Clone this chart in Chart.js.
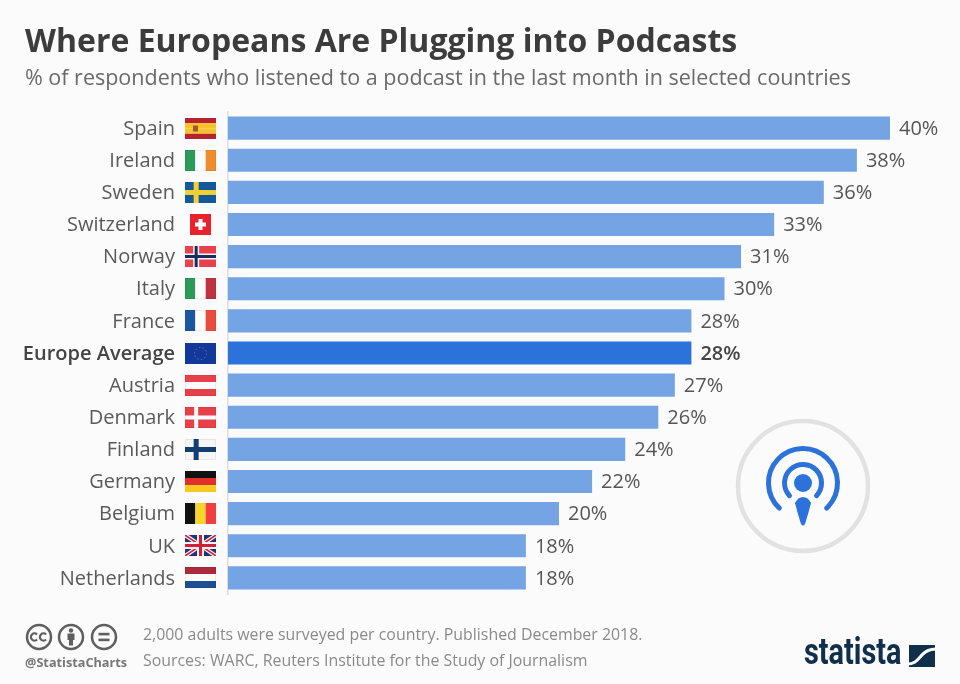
<!DOCTYPE html>
<html><head><meta charset="utf-8">
<script src="https://cdn.jsdelivr.net/npm/chart.js@4"></script>
<style>
html,body{margin:0;padding:0;background:#fbfbfb;width:960px;height:684px;overflow:hidden}
#wrap{position:relative;width:960px;height:684px;font-family:"Open Sans",sans-serif}
canvas{position:absolute;left:0;top:0}
.t{position:absolute;white-space:nowrap;line-height:1}
#title{left:25px;top:24px;font-size:32px;font-weight:700;color:#3c3c3c}
#sub{left:25px;top:66px;font-size:21.5px;color:#6a6a6a}
#f1{left:143px;top:627px;font-size:15.9px;color:#8a8a8a}
#f2{left:143px;top:653px;font-size:15.9px;color:#8a8a8a}
#handle{left:25px;top:656px;font-size:12.7px;font-weight:700;color:#777}
#brand{left:804px;top:633px;font-size:37px;font-weight:700;color:#0f2f4a;font-family:"Roboto",sans-serif;transform-origin:left top;transform:scaleX(.78)}
</style></head><body>
<div id="wrap">
<canvas id="c" width="960" height="684"></canvas>
<div class="t" id="title">Where Europeans Are Plugging into Podcasts</div>
<div class="t" id="sub">% of respondents who listened to a podcast in the last month in selected countries</div>
<div class="t" id="f1">2,000 adults were surveyed per country. Published December 2018.</div>
<div class="t" id="f2">Sources: WARC, Reuters Institute for the Study of Journalism</div>
<div class="t" id="handle">@StatistaCharts</div>
<div class="t" id="brand">statista</div>
</div>
<script>
const categories=["Spain","Ireland","Sweden","Switzerland","Norway","Italy","France","Europe Average","Austria","Denmark","Finland","Germany","Belgium","UK","Netherlands"];
const values=[40,38,36,33,31,30,28,28,27,26,24,22,20,18,18];
const highlight="Europe Average";
const flagCodes=["es","ie","se","ch","no","it","fr","eu","at","dk","fi","de","be","uk","nl"];

const LIGHT="#74a4e3",DARK="#2b72da",BLUE="#2b72da";
const FONT='"Open Sans",sans-serif';

function vstripes(g,x,y,w,h,cols){const s=w/cols.length;cols.forEach((c,i)=>{g.fillStyle=c;g.fillRect(x+i*s,y,s,h)})}
function hstripes(g,x,y,w,h,cols){const s=h/cols.length;cols.forEach((c,i)=>{g.fillStyle=c;g.fillRect(x,y+i*s,w,s)})}
function nordic(g,x,y,w,h,bg,cross,inner,t){
  t=t||6;
  g.fillStyle=bg;g.fillRect(x,y,w,h);
  const cx=x+w*.36,cy=y+h/2;
  g.fillStyle=cross;g.fillRect(cx-t/2,y,t,h);g.fillRect(x,cy-t/2,w,t);
  if(inner){g.fillStyle=inner;g.fillRect(cx-1.5,y,3,h);g.fillRect(x,cy-1.5,w,3)}
}
const flagDraw={
  es(g,x,y,w,h){hstripes(g,x,y,w,h,["#b5242c","#f6c32c","#f6c32c","#b5242c"]);g.fillStyle="#a8562a";g.fillRect(x+8,y+h/2-3,5,6)},
  ie(g,x,y,w,h){vstripes(g,x,y,w,h,["#2b9a5b","#fbfbfb","#f08c2e"])},
  se(g,x,y,w,h){nordic(g,x,y,w,h,"#14589c","#f2cf35",null,5)},
  no(g,x,y,w,h){nordic(g,x,y,w,h,"#e8424f","#f4f4f4","#12305f")},
  it(g,x,y,w,h){vstripes(g,x,y,w,h,["#2b9a5b","#fbfbfb","#bf3340"])},
  fr(g,x,y,w,h){vstripes(g,x,y,w,h,["#1c56a0","#fbfbfb","#ea4b40"])},
  eu(g,x,y,w,h){g.fillStyle="#12389a";g.fillRect(x,y,w,h);g.strokeStyle="#5f76b8";g.lineWidth=1;g.setLineDash([1.5,2.2]);g.beginPath();g.arc(x+w/2,y+h/2,6,0,Math.PI*2);g.stroke();g.setLineDash([])},
  at(g,x,y,w,h){hstripes(g,x,y,w,h,["#e8404a","#fbfbfb","#e8404a"])},
  dk(g,x,y,w,h){nordic(g,x,y,w,h,"#e8404a","#fbfbfb",null,4)},
  fi(g,x,y,w,h){nordic(g,x,y,w,h,"#f6f6f6","#123e73",null,5)},
  de(g,x,y,w,h){hstripes(g,x,y,w,h,["#111111","#e0302c","#f8c91e"])},
  be(g,x,y,w,h){vstripes(g,x,y,w,h,["#111111","#f8d32c","#ee4040"])},
  uk(g,x,y,w,h){
    g.fillStyle="#25307a";g.fillRect(x,y,w,h);
    g.save();g.beginPath();g.rect(x,y,w,h);g.clip();
    g.strokeStyle="#f2f2f2";g.lineWidth=4;g.beginPath();g.moveTo(x,y);g.lineTo(x+w,y+h);g.moveTo(x+w,y);g.lineTo(x,y+h);g.stroke();
    g.strokeStyle="#d21f35";g.lineWidth=1.5;g.stroke();
    g.fillStyle="#f2f2f2";g.fillRect(x+w/2-3.5,y,7,h);g.fillRect(x,y+h/2-3.5,w,7);
    g.fillStyle="#d21f35";g.fillRect(x+w/2-1.5,y,3,h);g.fillRect(x,y+h/2-1.5,w,3);
    g.restore();
  },
  nl(g,x,y,w,h){hstripes(g,x,y,w,h,["#ab2b3c","#fbfbfb","#1f4f92"])},
  ch(g,x,y,w,h){
    const s=h,x0=x+(w-s)/2;g.fillStyle="#e8232c";g.fillRect(x0,y,s,s);
    g.fillStyle="#fff";g.fillRect(x0+s/2-5.5,y+s/2-2,11,4);g.fillRect(x0+s/2-2,y+s/2-5.5,4,11);
  }
};

const artwork={id:"artwork",afterDraw(ch){
  const g=ch.ctx,yS=ch.scales.y;
  g.save();
  const bars=ch.getDatasetMeta(0).data;
  g.textBaseline="middle";g.textAlign="left";
  bars.forEach((b,i)=>{
    const hi=categories[i]===highlight;
    g.font=(hi?"600 ":"")+"20px "+FONT;
    g.fillStyle=hi?"#444":"#555";
    g.fillText(values[i]+"%",b.x+9,b.y+1);
  });
  flagCodes.forEach((c,i)=>{
    const cy=yS.getPixelForTick(i),w=31,h=21,x=185,y=Math.round(cy-h/2);
    flagDraw[c](g,x,y,w,h);
    if(c==="ie"||c==="it"||c==="fr"||c==="at"||c==="nl"||c==="fi"||c==="dk"){g.strokeStyle="rgba(0,0,0,.06)";g.lineWidth=1;g.strokeRect(x+.5,y+.5,w-1,h-1)}
  });
  const cx=803,cy=483;
  g.lineCap="round";
  g.strokeStyle="#e2e2e2";g.lineWidth=4.5;g.beginPath();g.arc(cx,486,65,0,Math.PI*2);g.stroke();
  g.strokeStyle=BLUE;
  g.lineWidth=5;g.beginPath();g.arc(cx,cy,34.5,Math.PI*.74,Math.PI*.26,false);g.stroke();
  g.lineWidth=5;g.beginPath();g.arc(cx,cy,18.5,Math.PI*.76,Math.PI*.24,false);g.stroke();
  g.fillStyle=BLUE;g.beginPath();g.arc(cx,cy,9,0,Math.PI*2);g.fill();
  g.beginPath();g.moveTo(cx,497);g.quadraticCurveTo(cx+5,497,cx+8,503);g.quadraticCurveTo(cx+5,515,cx+2,524);g.quadraticCurveTo(cx,527,cx-2,524);g.quadraticCurveTo(cx-5,515,cx-8,503);g.quadraticCurveTo(cx-5,497,cx,497);g.fill();
  g.strokeStyle="#5f5f5f";g.lineWidth=2.5;g.lineCap="butt";
  [39,71,104].forEach(x=>{g.beginPath();g.arc(x,637,12,0,Math.PI*2);g.stroke()});
  g.lineWidth=2.2;
  [[34.5,637],[43.5,637]].forEach(p=>{g.beginPath();g.arc(p[0],p[1],3.6,Math.PI*.25,Math.PI*1.75);g.stroke()});
  g.fillStyle="#5f5f5f";
  g.beginPath();g.arc(71,630.5,2.2,0,Math.PI*2);g.fill();
  g.fillRect(67.5,633.5,7,6.5);g.fillRect(69,640,4,5.5);
  g.fillRect(98.5,632.8,11,2.6);g.fillRect(98.5,638.6,11,2.6);
  g.fillStyle="#0f2f4a";g.fillRect(909,645,26,22);
  g.strokeStyle="#fbfbfb";g.lineWidth=3;g.beginPath();g.moveTo(907,664);g.bezierCurveTo(922,664,918,649,937,649);g.stroke();
  g.restore();
}};

new Chart(document.getElementById("c"),{
  type:"bar",
  plugins:[artwork],
  data:{labels:categories,datasets:[{
    data:values,
    backgroundColor:categories.map(c=>c===highlight?DARK:LIGHT),
    categoryPercentage:1,barPercentage:.72,borderWidth:0
  }]},
  options:{
    indexAxis:"y",responsive:false,animation:false,devicePixelRatio:1,
    layout:{padding:{top:112,bottom:90,left:0,right:3.8}},
    plugins:{legend:{display:false},tooltip:{enabled:false}},
    scales:{
      x:{display:false,min:0,max:44,grid:{display:false}},
      y:{
        afterFit(a){a.width=228},
        grid:{display:false,drawTicks:false},
        border:{display:true,color:"#dedede",width:1.5},
        ticks:{
          padding:53,autoSkip:false,labelOffset:1,
          color:c=>categories[c.index]===highlight?"#444":"#5a5a5a",
          font:c=>({family:FONT,size:20,weight:categories[c.index]===highlight?"600":"400"})
        }
      }
    }
  }
});
</script>
</body></html>
